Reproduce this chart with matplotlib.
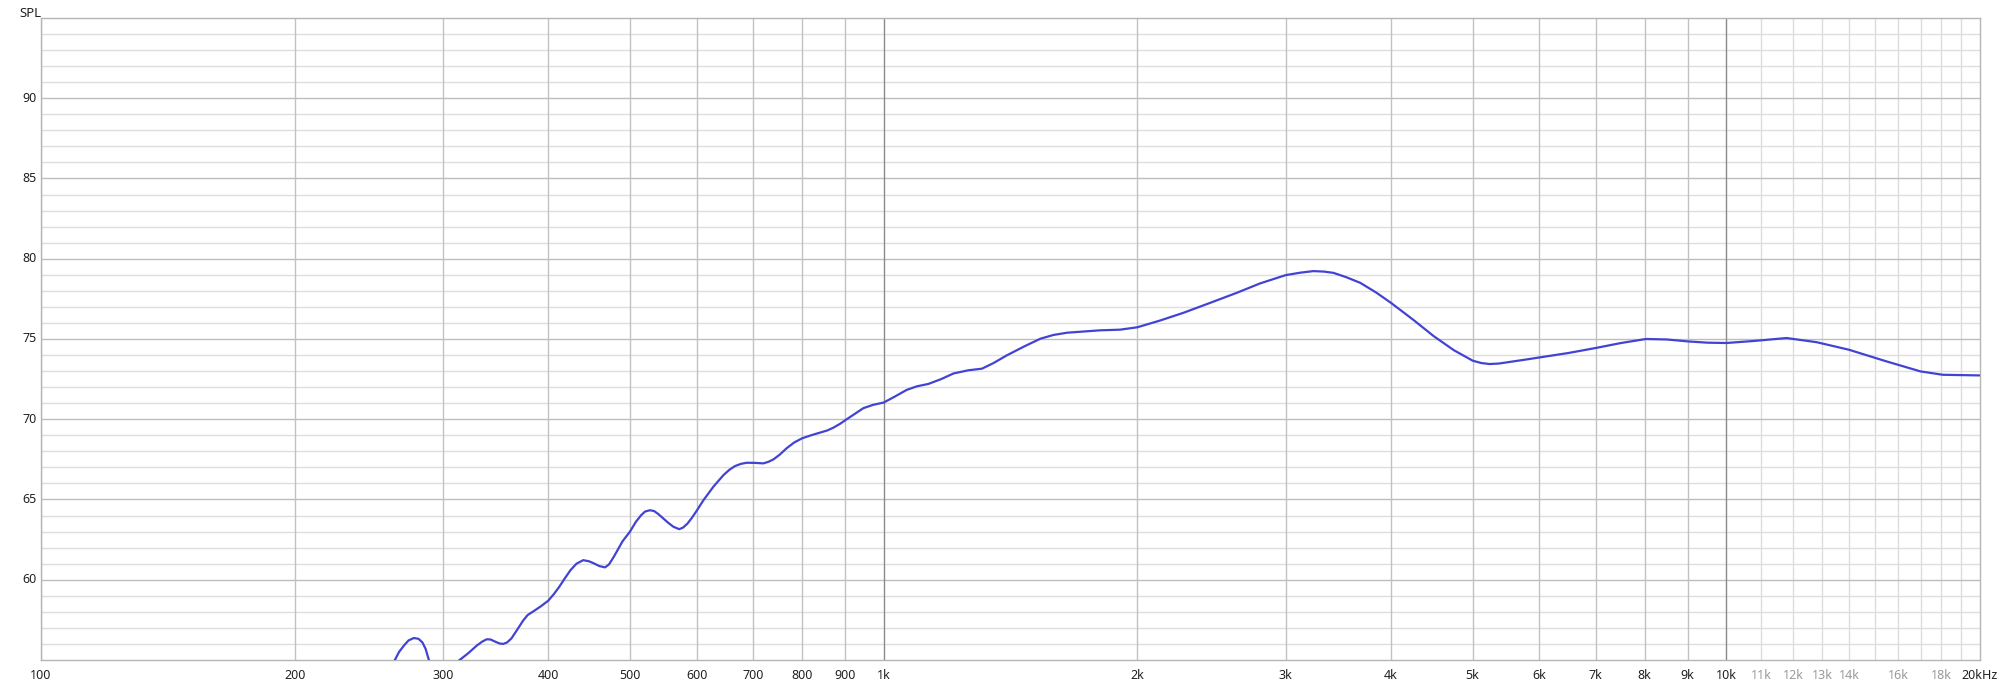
import matplotlib
matplotlib.use('Agg')
import matplotlib.pyplot as plt
import numpy as np

plt.rcParams['font.family'] = ['Noto Sans', 'DejaVu Sans']

# frequency response (Hz, dB SPL)
freq = [250, 263, 266, 269.6, 273, 277, 280.5, 283.5, 286, 288.6, 292, 298, 305,
        313, 321, 329, 334, 338, 341.5, 345.7, 350, 353.6, 357.5, 361.7, 367,
        373.3, 378, 383.7, 392, 400, 406, 412, 418, 425, 432, 440, 447, 453, 460,
        467, 472, 478, 484, 490, 500, 508, 515, 521, 528, 534, 540, 548, 555, 563,
        572, 578, 585, 592, 600, 611, 628, 645.5, 656, 666, 677, 688, 704, 720,
        730, 740, 753, 767, 783, 800, 820, 841, 857, 872, 888, 904, 925, 946, 972,
        1000, 1030, 1065, 1095, 1130, 1170, 1210, 1260, 1308, 1350, 1400, 1470,
        1535, 1590, 1650, 1730, 1806, 1907, 2000, 2128, 2268, 2440, 2624, 2796,
        3000, 3120, 3236, 3330, 3418, 3540, 3677, 3840, 4000, 4250, 4497, 4750,
        5000, 5120, 5237, 5370, 5500, 5750, 6000, 6500, 7000, 7500, 8027, 8500,
        9000, 9500, 10000, 10800, 11790, 12800, 13980, 15500, 17000, 18070, 20000]
spl = [53.2, 55.0, 55.5, 55.9, 56.22, 56.37, 56.32, 56.1, 55.7, 55.0, 54.4, 54.1,
       54.4, 54.95, 55.4, 55.9, 56.15, 56.29, 56.28, 56.15, 56.03, 56.0, 56.1,
       56.35, 56.85, 57.45, 57.8, 58.02, 58.35, 58.7, 59.1, 59.55, 60.05, 60.6,
       61.0, 61.22, 61.15, 61.02, 60.85, 60.77, 60.95, 61.4, 61.9, 62.4, 63.0,
       63.6, 64.0, 64.25, 64.33, 64.28, 64.1, 63.8, 63.55, 63.3, 63.15, 63.25,
       63.5, 63.85, 64.3, 64.95, 65.8, 66.52, 66.85, 67.08, 67.22, 67.29, 67.28,
       67.25, 67.35, 67.5, 67.8, 68.19, 68.55, 68.81, 69.0, 69.17, 69.3, 69.48,
       69.72, 70.0, 70.35, 70.69, 70.9, 71.04, 71.4, 71.83, 72.05, 72.2, 72.5,
       72.85, 73.05, 73.15, 73.5, 73.98, 74.55, 75.02, 75.25, 75.39, 75.47, 75.54,
       75.58, 75.73, 76.15, 76.63, 77.25, 77.875, 78.46, 78.98, 79.13, 79.23,
       79.2, 79.12, 78.85, 78.5, 77.9, 77.25, 76.2, 75.17, 74.3, 73.65, 73.5,
       73.44, 73.47, 73.55, 73.7, 73.85, 74.13, 74.44, 74.75, 75.0, 74.97, 74.85,
       74.77, 74.75, 74.88, 75.06, 74.8, 74.33, 73.6, 72.98, 72.77, 72.73]

major_freqs = [100, 200, 300, 400, 500, 600, 700, 800, 900, 1000,
               2000, 3000, 4000, 5000, 6000, 7000, 8000, 9000, 10000]
major_labels = ['100', '200', '300', '400', '500', '600', '700', '800', '900', '1k',
                '2k', '3k', '4k', '5k', '6k', '7k', '8k', '9k', '10k']
minor_freqs = [11000, 12000, 13000, 14000, 15000, 16000, 17000, 18000, 19000]
minor_labels = {11000: '11k', 12000: '12k', 13000: '13k', 14000: '14k',
                16000: '16k', 18000: '18k'}
db_labels = [60, 65, 70, 75, 80, 85, 90]

fig = plt.figure(figsize=(20, 6.84), dpi=100)
ax = fig.add_axes([0.0205, 0.0351, 0.9695, 0.9386])
ax.set_xscale('log')
ax.set_xlim(100, 20000)
ax.set_ylim(55, 95)

# horizontal grid
for d in range(56, 95):
    if d % 5 == 0:
        ax.axhline(d, color='#bdbdbd', lw=1.0, zorder=1)
    else:
        ax.axhline(d, color='#dedede', lw=1.0, zorder=0)
# vertical grid
for f in major_freqs:
    c = '#8a8a8a' if f in (1000, 10000) else '#c2c2c2'
    ax.axvline(f, color=c, lw=1.0, zorder=1)
for f in minor_freqs:
    ax.axvline(f, color='#dcdcdc', lw=1.0, zorder=0)

ax.plot(freq, spl, color='#4343d3', lw=1.6, zorder=3, solid_joinstyle='round')

for s in ax.spines.values():
    s.set_color('#b5b5b5')
    s.set_linewidth(1.0)

ax.set_xticks([])
ax.set_xticks([], minor=True)
ax.set_yticks([])
ax.tick_params(length=0)

trans = ax.get_xaxis_transform()
for f, lab in zip(major_freqs, major_labels):
    ax.text(f, -0.014, lab, transform=trans, ha='center', va='top', fontsize=9, color='#222222')
for f, lab in minor_labels.items():
    ax.text(f, -0.014, lab, transform=trans, ha='center', va='top', fontsize=9, color='#9a9a9a')
ax.text(20000, -0.014, '20kHz', transform=trans, ha='center', va='top', fontsize=9, color='#222222')

ytrans = ax.get_yaxis_transform()
for d in db_labels:
    ax.text(-0.002, d, str(d), transform=ytrans, ha='right', va='center', fontsize=9, color='#222222')
fig.text(0.0095, 0.99, 'SPL', ha='left', va='top', fontsize=9.5, color='#222222')

plt.savefig('out.png')
